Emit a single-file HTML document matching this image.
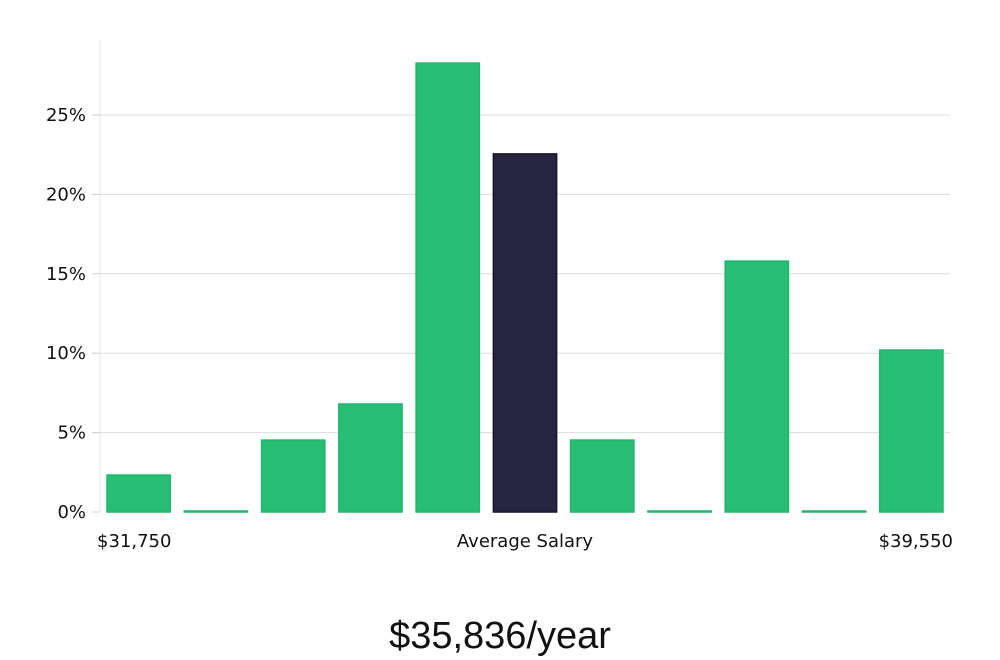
<!DOCTYPE html>
<html><head><meta charset="utf-8"><style>
body{margin:0;background:#fff;font-family:"DejaVu Sans","Liberation Sans",sans-serif;}
svg{display:block}
</style></head><body>
<svg id="chart" width="1000" height="660" xmlns="http://www.w3.org/2000/svg"></svg>
<script>
const categories=["b1","b2","b3","b4","b5","b6","b7","b8","b9","b10","b11"];
const values=[2.33,0,4.53,6.8,28.27,22.55,4.53,0,15.8,0,10.2];
const highlight=[false,false,false,false,false,true,false,false,false,false,false];
const yTicks=[0,5,10,15,20,25];
const yTickLabels=["0%","5%","10%","15%","20%","25%"];
const xLabels=["$31,750","Average Salary","$39,550"];
const NS="http://www.w3.org/2000/svg";
const svg=document.getElementById('chart');
const L=100,R=950,Y0=512,pxPer=(512-115)/25;
const y=v=>Y0-v*pxPer;
const slot=(R-L)/categories.length;
const x=i=>L+i*slot;
function mk(t,a){const e=document.createElementNS(NS,t);for(const k in a)e.setAttribute(k,a[k]);svg.appendChild(e);return e;}
let ax=mk('line',{x1:L,x2:L,y1:40,y2:Y0,stroke:'#e6e6e6'});


yTicks.forEach((t,i)=>{
  if(t>0){const g=mk('line',{x1:L,x2:R,y1:y(t),y2:y(t),stroke:'#dcdcdc'});
  
  }
  const tk=mk('line',{x1:L-8,x2:L,y1:y(t),y2:y(t),stroke:'#ccc'});
  
  
  const tx=mk('text',{x:L-14,y:y(t)+6,'text-anchor':'end','font-size':18,fill:'#111'});
  tx.textContent=yTickLabels[i];
  
  
});
values.forEach((v,i)=>{
  const h=Math.max(1,v*pxPer);
  const b=mk('rect',{x:x(i)+7,y:Y0-h,width:slot-14,height:h,fill:highlight[i]?'#27243f':'#28bd75',stroke:highlight[i]?'#16142a':'#22b56c','stroke-width':1.5});
  
  
});
const xl=[[97,'start'],[525,'middle'],[953,'end']];
xLabels.forEach((s,i)=>{
  const t=mk('text',{x:xl[i][0],y:547,'text-anchor':xl[i][1],'font-size':18,fill:'#111'});
  t.textContent=s;
  
  
});
const title=mk('text',{x:500,y:648,'text-anchor':'middle','font-size':38,fill:'#111','font-family':'"Liberation Sans",sans-serif'});
title.textContent="$35,836/year";


</script>
</body></html>
